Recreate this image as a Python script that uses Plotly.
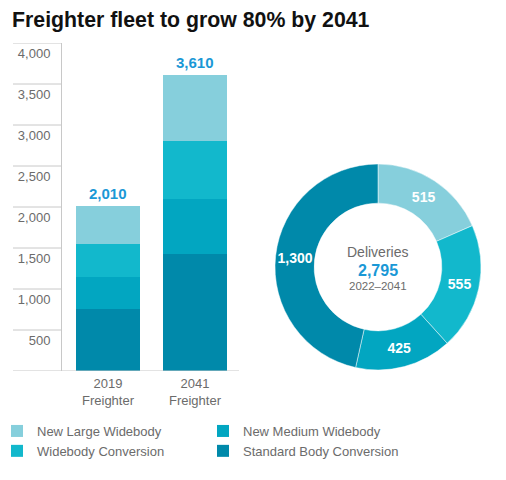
import plotly.graph_objects as go

# =====================================================
# Data
# =====================================================
categories = ["2019<br>Freighter", "2041<br>Freighter"]
segment_names = ["Standard Body Conversion", "New Medium Widebody",
                 "Widebody Conversion", "New Large Widebody"]
standard_body = [760, 1425]
medium_widebody = [385, 670]
widebody_conv = [400, 705]
large_widebody = [465, 810]
fleet_totals = [2010, 3610]

donut_labels = ["New Large Widebody", "Widebody Conversion",
                "New Medium Widebody", "Standard Body Conversion"]
donut_values = [515, 555, 425, 1300]
deliveries_total = 2795

y_ticks = [500, 1000, 1500, 2000, 2500, 3000, 3500, 4000]

# =====================================================
# Style
# =====================================================
W, H = 506, 480
FONT = "Liberation Sans, Arial, Helvetica, sans-serif"
GREY = "#6b6b6b"
LINE = "#c8c8c8"
BLUE = "#1a98d6"
colors = {
    "New Large Widebody": "#86cfdc",
    "Widebody Conversion": "#12b8cc",
    "New Medium Widebody": "#02a6c1",
    "Standard Body Conversion": "#0089aa",
}

def px_x(p):
    return p / W

def px_y(p):
    return 1 - p / H

fig = go.Figure()

# stacked bars, bottom to top
stacks = [standard_body, medium_widebody, widebody_conv, large_widebody]
legend_of = {"Standard Body Conversion": "legend2", "New Medium Widebody": "legend2",
             "Widebody Conversion": "legend", "New Large Widebody": "legend"}
for name, vals in zip(segment_names, stacks):
    fig.add_trace(go.Bar(
        x=categories, y=vals, name=name,
        marker=dict(color=colors[name], line=dict(width=0)),
        width=0.736, legend=legend_of[name], hoverinfo="skip",
    ))

# donut
fig.add_trace(go.Pie(
    labels=donut_labels, values=donut_values,
    text=[f"{v:,}" for v in donut_values], textinfo="text",
    textposition="inside", insidetextorientation="horizontal",
    textfont=dict(family=FONT, size=14, color="white", weight="bold"),
    marker=dict(colors=[colors[l] for l in donut_labels],
                line=dict(color="rgba(255,255,255,0.6)", width=0.8)),
    hole=0.62, sort=False, direction="clockwise", rotation=0,
    showlegend=False, hoverinfo="skip",
    domain=dict(x=[px_x(275), px_x(481)], y=[px_y(370), px_y(164)]),
))

# totals above bars
for cat, tot in zip(categories, fleet_totals):
    fig.add_annotation(x=cat, y=tot, text=f"{tot:,}", showarrow=False,
                       yanchor="bottom", yshift=2,
                       font=dict(family=FONT, size=15, color=BLUE, weight="bold"))

# donut centre text
cx, cy = (px_x(275) + px_x(481)) / 2, (px_y(370) + px_y(164)) / 2
centre = [("Deliveries", 15, 14, GREY, "normal"),
          (f"{deliveries_total:,}", -3, 16, BLUE, "bold"),
          ("2022\u20132041", -19, 11.5, GREY, "normal")]
for txt, shift, size, col, wt in centre:
    fig.add_annotation(x=cx, y=cy, xref="paper", yref="paper",
                       xanchor="center", yanchor="middle", yshift=shift,
                       text=txt, showarrow=False,
                       font=dict(family=FONT, size=size, color=col, weight=wt))

# short gridlines left of the axis, and the baseline
for t in y_ticks:
    fig.add_shape(type="line", xref="paper", yref="y",
                  x0=px_x(13), x1=px_x(62), y0=t, y1=t,
                  line=dict(color=LINE, width=1))
fig.add_shape(type="line", xref="paper", yref="y",
              x0=px_x(13), x1=px_x(239), y0=0, y1=0,
              line=dict(color=LINE, width=1.2))

fig.update_layout(
    width=W, height=H,
    margin=dict(l=0, r=0, t=0, b=0, autoexpand=False),
    paper_bgcolor="white", plot_bgcolor="white",
    barmode="stack", bargap=0.26,
    font=dict(family=FONT, color=GREY, size=13),
    title=dict(text="Freighter fleet to grow 80% by 2041",
               x=px_x(12), xanchor="left", y=px_y(20), yanchor="middle",
               font=dict(family=FONT, size=21.3, color="#111111", weight="bold")),
    xaxis=dict(domain=[px_x(62), px_x(239)], type="category",
               range=[-0.529, 1.506], showgrid=False, showline=False,
               zeroline=False, ticks="", automargin=False,
               ticklabelstandoff=3, tickfont=dict(size=13, color=GREY)),
    yaxis=dict(domain=[px_y(371), px_y(43)], range=[0, 4000],
               tickvals=y_ticks, ticktext=[f"{t:,}" for t in y_ticks],
               showgrid=False, zeroline=False, showline=True,
               linecolor=LINE, linewidth=1, ticks="", automargin=False,
               ticklabelshift=10, ticklabelstandoff=8,
               tickfont=dict(size=13, color=GREY)),
    legend=dict(x=px_x(-3), y=px_y(416), xanchor="left", yanchor="top",
                traceorder="reversed", font=dict(size=13, color=GREY),
                bgcolor="rgba(0,0,0,0)", tracegroupgap=0),
    legend2=dict(x=px_x(203), y=px_y(416), xanchor="left", yanchor="top",
                 traceorder="reversed", font=dict(size=13, color=GREY),
                 bgcolor="rgba(0,0,0,0)", tracegroupgap=0),
)

# drop the browser's default 8px body margin so the figure sits at 0,0
fig.write_html("out.html", config={"displayModeBar": False},
               post_script="document.body.style.margin='0';")
